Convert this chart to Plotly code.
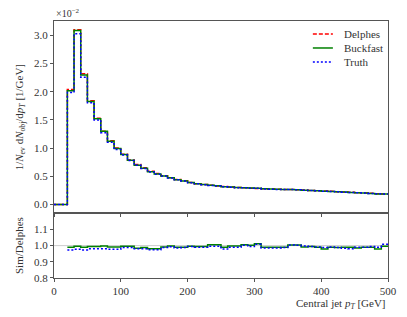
import plotly.graph_objects as go

# bin edges (GeV)
bin_edges = list(range(0, 510, 10))

# Delphes normalised distribution (units of 1e-2 / GeV), bins 0-500 in 10 GeV steps
delphes = [0.0, 0.0,
           2.04, 3.10, 2.32, 1.84, 1.53, 1.30, 1.13, 1.00, 0.89, 0.79,
           0.71, 0.65, 0.59, 0.55, 0.51, 0.475, 0.445, 0.42, 0.39, 0.37,
           0.355, 0.34, 0.33, 0.32, 0.31, 0.30, 0.295, 0.29, 0.285, 0.28,
           0.276, 0.272, 0.268, 0.264, 0.26, 0.255, 0.25, 0.245, 0.24, 0.234,
           0.228, 0.222, 0.216, 0.21, 0.204, 0.198, 0.192, 0.186]

# Ratios to Delphes, bins 20-500
ratio_buckfast = [0.990, 0.996, 0.990, 0.994, 0.994, 0.998, 0.992, 0.992, 0.996, 0.996,
                  0.983, 0.988, 0.981, 0.981, 0.992, 0.998, 0.990, 0.990, 0.996, 0.994,
                  0.994, 1.006, 1.006, 0.990, 0.998, 0.998, 1.006, 1.002, 1.012, 0.990,
                  0.990, 0.990, 0.990, 1.004, 1.004, 0.992, 0.994, 0.990, 0.979, 0.990,
                  0.988, 0.990, 0.990, 0.986, 0.990, 0.990, 0.979, 0.996]
ratio_truth = [0.973, 0.977, 0.973, 0.980, 0.980, 0.980, 0.977, 0.977, 0.988, 0.988,
               0.980, 0.980, 0.975, 0.975, 0.988, 0.993, 0.985, 0.988, 0.994, 0.990,
               0.990, 0.996, 0.996, 0.979, 0.990, 0.990, 1.002, 0.994, 1.008, 0.986,
               0.986, 0.986, 0.988, 1.004, 1.002, 0.998, 0.994, 0.992, 0.988, 0.992,
               0.988, 0.983, 0.981, 0.990, 0.990, 0.994, 0.990, 1.008]

x_ticks = [0, 100, 200, 300, 400, 500]
y_ticks = [0.0, 0.5, 1.0, 1.5, 2.0, 2.5, 3.0]
ratio_ticks = [0.8, 0.9, 1.0, 1.1]

n_empty = 2
buckfast = delphes[:n_empty] + [d * r for d, r in zip(delphes[n_empty:], ratio_buckfast)]
truth = delphes[:n_empty] + [d * r for d, r in zip(delphes[n_empty:], ratio_truth)]

series_names = ["Delphes", "Buckfast", "Truth"]
colors = {"Delphes": "#ff0000", "Buckfast": "#008000", "Truth": "#0000ff"}
dashes = {"Delphes": "4px,2px", "Buckfast": "solid", "Truth": "2px,2px"}

FONT = "Liberation Serif"
AX = "#555555"
TXT = "#333333"

fig = go.Figure()

def step(vals):
    return vals + [vals[-1]]

for name, vals in zip(series_names, [delphes, buckfast, truth]):
    fig.add_trace(go.Scatter(
        x=bin_edges, y=step(vals), mode="lines", line_shape="hv",
        line=dict(color=colors[name], dash=dashes[name], width=1.5),
        name=name, showlegend=False, xaxis="x", yaxis="y"))

# ratio panel
ratio_edges = bin_edges[n_empty:]
fig.add_trace(go.Scatter(x=[0, 500], y=[1, 1], mode="lines",
                         line=dict(color="#cccccc", width=1), showlegend=False,
                         xaxis="x2", yaxis="y2"))
fig.add_trace(go.Scatter(x=ratio_edges, y=step(ratio_buckfast), mode="lines", line_shape="hv",
                         line=dict(color=colors["Buckfast"], width=1.5), showlegend=False,
                         xaxis="x2", yaxis="y2"))
fig.add_trace(go.Scatter(x=ratio_edges, y=step(ratio_truth), mode="lines", line_shape="hv",
                         line=dict(color=colors["Truth"], dash=dashes["Truth"], width=1.5), showlegend=False,
                         xaxis="x2", yaxis="y2"))

split = 0.252
axis_common = dict(showline=True, linecolor=AX, linewidth=1, mirror=True,
                   showgrid=False, zeroline=False, ticks="outside", ticklen=3,
                   tickcolor=AX, automargin=False,
                   tickfont=dict(family=FONT, size=11, color=TXT))

# page body has an 8px margin (left/top), so the figure is sized to fill the rest of the window
fig.update_layout(
    width=399, height=309,
    margin=dict(l=46, r=19, t=13, b=39),
    plot_bgcolor="white", paper_bgcolor="white",
    font=dict(family=FONT, size=11, color=TXT),
    xaxis=dict(domain=[0, 1], range=[0, 500], anchor="y", showticklabels=False,
               matches="x2", **axis_common),
    yaxis=dict(domain=[split, 1], range=[-0.155, 3.255], anchor="x",
               tickvals=y_ticks, tickformat=".1f",
               title=dict(text="1/<i>N</i><sub>ev</sub> d<i>N</i><sub>obj</sub>/d<i>p</i><sub><i>T</i></sub> [1/GeV]",
                          font=dict(family=FONT, size=11, color=TXT), standoff=8),
               **axis_common),
    xaxis2=dict(domain=[0, 1], range=[0, 500], anchor="y2",
                tickvals=x_ticks, **axis_common),
    yaxis2=dict(domain=[0, split], range=[0.8, 1.2], anchor="x2",
                tickvals=ratio_ticks, tickformat=".1f",
                title=dict(text="Sim/Delphes", font=dict(family=FONT, size=11, color=TXT), standoff=8),
                **axis_common),
    showlegend=False,
)

# legend (drawn as keys + labels to match the compact matplotlib legend)
legend_rows_y = [0.949, 0.895, 0.840]
for name, ly in zip(series_names, legend_rows_y):
    fig.add_shape(type="line", xref="paper", yref="paper", x0=0.775, x1=0.835, y0=ly, y1=ly,
                  line=dict(color=colors[name], dash=dashes[name], width=1.5))
    fig.add_annotation(text=name, xref="paper", yref="paper", x=0.862, y=ly,
                       xanchor="left", yanchor="middle", showarrow=False,
                       font=dict(family=FONT, size=11, color=TXT))

fig.add_annotation(text="×10<sup>−2</sup>", xref="paper", yref="paper", x=0.0, y=1.0,
                   xanchor="left", yanchor="bottom", showarrow=False,
                   font=dict(family=FONT, size=10, color=TXT))
fig.add_annotation(text="Central jet <i>p</i><sub><i>T</i></sub> [GeV]", xref="paper", yref="paper",
                   x=1.0, y=0, xanchor="right", yanchor="top", yshift=-17, showarrow=False,
                   font=dict(family=FONT, size=11, color=TXT))

fig.write_html("out.html")
